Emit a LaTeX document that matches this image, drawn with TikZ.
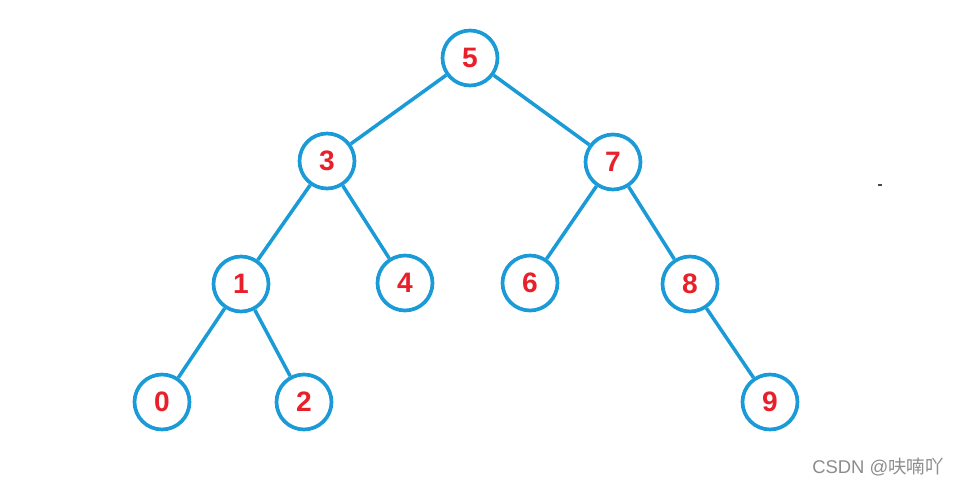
\documentclass[tikz,border=0pt]{standalone}
\usepackage{fontspec}
\setmainfont{Liberation Sans}
\newfontfamily\cjkfont{Noto Sans CJK SC}
\usepackage{xcolor}
\usetikzlibrary{positioning}
\definecolor{TreeBlue}{HTML}{1A9AD6}
\definecolor{KeyRed}{HTML}{E8202A}

\begin{document}
\begin{tikzpicture}[x=0.02cm, y=-0.02cm,
        keynode/.style={circle, draw=TreeBlue, line width=2.1pt, fill=white, minimum size=1.1cm, inner sep=0pt, text=KeyRed, font=\fontsize{16}{16}\selectfont\bfseries},
        edge/.style={draw=TreeBlue, line width=2pt}
    ]
        \useasboundingbox (0,0) rectangle (957,487);

        % Root and first level
        \node [keynode] (n5) at (470,58) {5};
        \node [keynode] (n3) at (327,161) {3};
        \node [keynode] (n7) at (613,162) {7};

        % Second level
        \node [keynode] (n1) at (241,284) {1};
        \node [keynode] (n4) at (405,283) {4};
        \node [keynode] (n6) at (530,283) {6};
        \node [keynode] (n8) at (690,284) {8};

        % Leaves
        \node [keynode] (n0) at (162,402) {0};
        \node [keynode] (n2) at (304,402) {2};
        \node [keynode] (n9) at (770,402) {9};

        \draw [edge] (n5) -- (n3);
        \draw [edge] (n5) -- (n7);
        \draw [edge] (n3) -- (n1);
        \draw [edge] (n3) -- (n4);
        \draw [edge] (n7) -- (n6);
        \draw [edge] (n7) -- (n8);
        \draw [edge] (n1) -- (n0);
        \draw [edge] (n1) -- (n2);
        \draw [edge] (n8) -- (n9);

        % stray mark and watermark
        \fill [black!70] (878,184) rectangle (882,186);
        \node [text=black!45, font=\fontsize{10.5}{10.5}\selectfont] (mark) at (878,467) {CSDN @{\cjkfont 呋喃吖}};
    \end{tikzpicture}
\end{document}
